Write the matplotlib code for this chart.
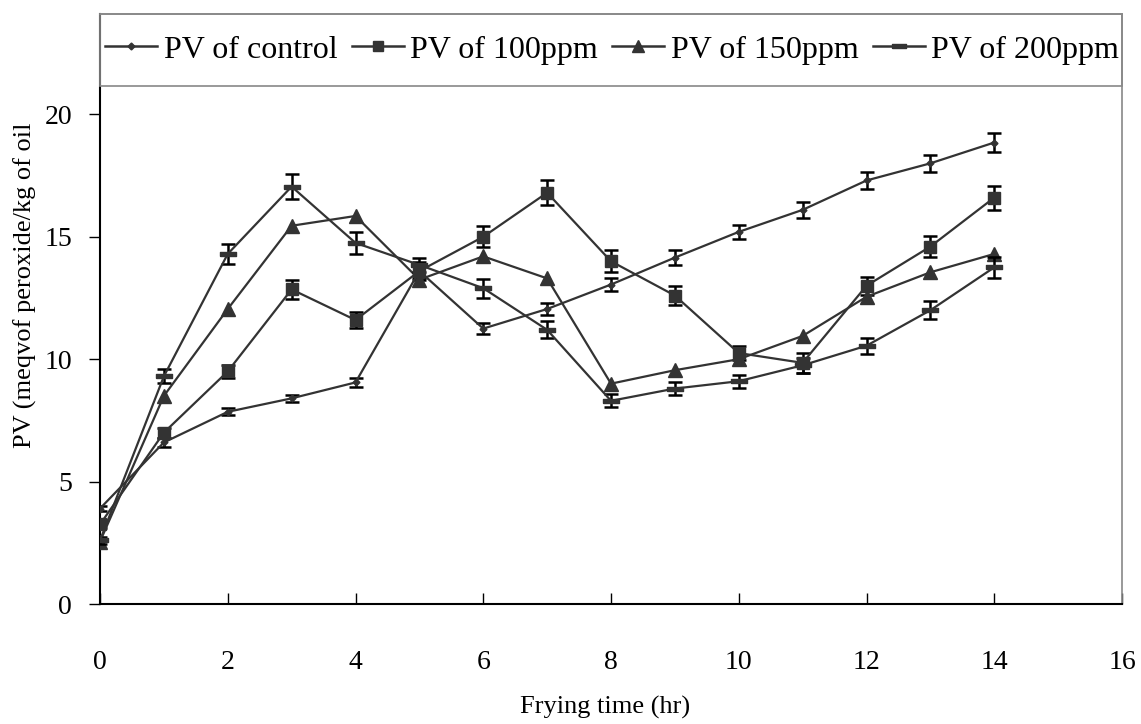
import matplotlib
matplotlib.use("Agg")
import matplotlib.pyplot as plt
from matplotlib.lines import Line2D
from matplotlib.patches import Rectangle

plt.rcParams['font.family'] = ['Liberation Serif', 'DejaVu Serif']

hours = list(range(15))
pv_control = [3.9, 6.6, 7.85, 8.4, 9.05, 13.6, 11.25, 12.05, 13.05, 14.15, 15.2, 16.1, 17.3, 18.0, 18.85]
err_control = [0.12, 0.18, 0.14, 0.15, 0.18, 0.3, 0.22, 0.24, 0.27, 0.3, 0.3, 0.33, 0.35, 0.35, 0.37]
pv_100 = [3.25, 7.0, 9.5, 12.85, 11.6, 13.6, 15.0, 16.8, 14.0, 12.6, 10.25, 9.85, 13.0, 14.6, 16.6]
err_100 = [0.15, 0.2, 0.27, 0.39, 0.34, 0.35, 0.42, 0.51, 0.44, 0.4, 0.3, 0.4, 0.37, 0.44, 0.49]
pv_150 = [2.55, 8.5, 12.05, 15.45, 15.85, 13.25, 14.2, 13.3, 9.0, 9.55, 10.0, 10.95, 12.55, 13.55, 14.3]
pv_200 = [2.6, 9.3, 14.3, 17.05, 14.75, 13.85, 12.9, 11.2, 8.3, 8.8, 9.1, 9.75, 10.55, 12.0, 13.75]
err_200 = [0.15, 0.29, 0.42, 0.5, 0.44, 0.3, 0.39, 0.34, 0.26, 0.28, 0.27, 0.3, 0.32, 0.37, 0.42]

labels = ["PV of control", "PV of 100ppm", "PV of 150ppm", "PV of 200ppm"]
x_ticks = [0, 2, 4, 6, 8, 10, 12, 14, 16]
y_ticks = [0, 5, 10, 15, 20]

fig = plt.figure(figsize=(11.41, 7.24), dpi=100)
ax = fig.add_axes([100/1141, 120/724, 1022/1141, 590/724])

lc = '#333333'
bar_marker = [(-1, -0.32), (1, -0.32), (1, 0.32), (-1, 0.32), (-1, -0.32)]
ekw = dict(ecolor='black', elinewidth=1.8, capsize=5, capthick=1.8)

styles = [
    dict(marker='D', ms=3.5),
    dict(marker='s', ms=8),
    dict(marker='^', ms=10),
    dict(marker=bar_marker, ms=11),
]

ax.errorbar(hours, pv_control, yerr=err_control, color=lc, lw=1.6,
            mfc=lc, mec=lc, zorder=3, **styles[0], **ekw)
ax.errorbar(hours, pv_100, yerr=err_100, color=lc, lw=1.6,
            mfc=lc, mec=lc, zorder=3, **styles[1], **ekw)
ax.plot(hours, pv_150, color=lc, lw=1.6, mfc=lc, mec=lc, zorder=3, **styles[2])
ax.errorbar(hours, pv_200, yerr=err_200, color=lc, lw=1.6,
            mfc=lc, mec=lc, zorder=3, **styles[3], **ekw)

ax.set_xlim(0, 16)
ax.set_ylim(0, 24.1)
ax.set_xticks(x_ticks)
ax.set_yticks(y_ticks)
ax.tick_params(axis='x', direction='in', length=8, width=1, pad=33, labelsize=20)
ax.tick_params(axis='y', direction='out', length=8, width=1, pad=12, labelsize=20)

for s in ['left', 'bottom']:
    ax.spines[s].set_color('black')
    ax.spines[s].set_linewidth(1.5)
for s in ['right', 'top']:
    ax.spines[s].set_color('#888888')
    ax.spines[s].set_linewidth(1.2)

ax.set_xlabel("Frying time (hr)", fontsize=19)
ax.xaxis.set_label_coords(0.494, -0.176)
ax.xaxis.label.set_va('center')
ax.set_ylabel("PV (meqvof peroxide/kg of oil", fontsize=19)
ax.yaxis.set_label_coords(-0.073, 0.54)
ax.yaxis.label.set_va('center')

# legend box
ax.add_patch(Rectangle((0, 0.878), 1, 0.122, transform=ax.transAxes,
                       fill=False, edgecolor='#888888', lw=1.2, zorder=4,
                       clip_on=False))

legend_ms = [3.5, 7, 9, 10]
handles = [Line2D([], [], color=lc, lw=1.8, mfc=lc, mec=lc,
                  marker=st['marker'], ms=m) for st, m in zip(styles, legend_ms)]
leg = ax.legend(handles, labels, loc='center', ncol=4,
                bbox_to_anchor=(0.501, 0.939), borderaxespad=0, borderpad=0,
                fontsize=23, handlelength=1.63, handletextpad=0.2,
                columnspacing=0.45, frameon=False)

fig.savefig("out.png", dpi=100)
